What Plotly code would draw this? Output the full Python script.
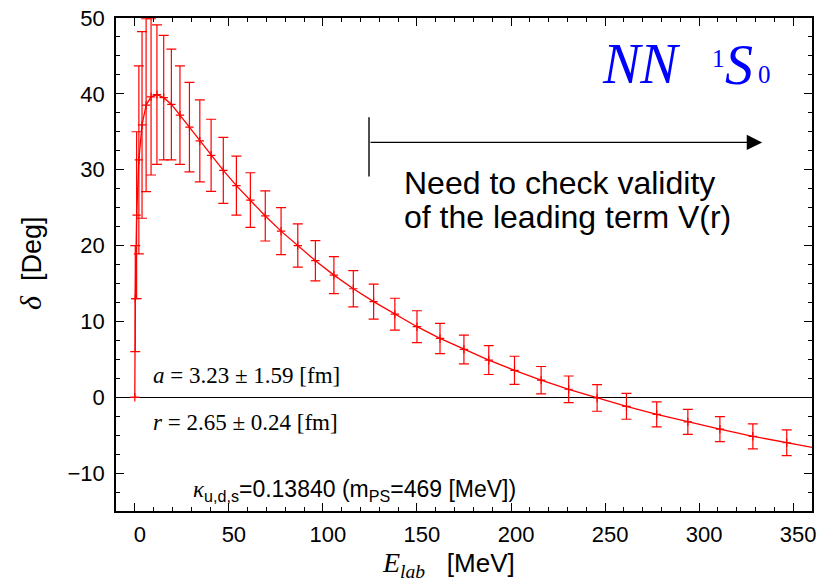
import plotly.graph_objects as go

# ---- data ----
E_lab = [0, 0.24, 0.96, 2.16, 3.84, 6.0, 8.64, 11.76, 15.36, 19.44, 24.0, 29.04,
         34.56, 40.56, 47.04, 54.0, 61.44, 69.36, 77.76, 86.64, 96.0, 105.84,
         116.16, 126.96, 138.24, 150.0, 162.24, 174.96, 188.16, 201.84, 216.0,
         230.64, 245.76, 261.36, 277.44, 294.0, 311.04, 328.56, 346.56, 365.04]
delta = [0, 13.0, 24.0, 31.3, 35.9, 38.5, 39.6, 39.9, 39.5, 38.6, 37.2, 35.6,
         33.8, 31.9, 29.9, 27.9, 26.0, 23.9, 21.9, 20.0, 18.0, 16.1,
         14.3, 12.6, 10.95, 9.3, 7.75, 6.3, 4.9, 3.55, 2.25,
         1.05, -0.1, -1.2, -2.25, -3.25, -4.2, -5.15, -6.0, -6.85]
delta_err = [0, 7.0, 11.0, 12.4, 12.3, 11.4, 10.3, 9.2, 8.2, 7.3, 6.5, 5.9,
             5.4, 4.75, 4.35, 3.9, 3.6, 3.3, 3.1, 2.85, 2.65, 2.45,
             2.4, 2.3, 2.1, 2.1, 2.0, 1.9, 1.9, 1.85, 1.8,
             1.75, 1.75, 1.7, 1.65, 1.65, 1.65, 1.65, 1.7, 1.7]

x_ticks = [0, 50, 100, 150, 200, 250, 300, 350]
y_ticks = [-10, 0, 10, 20, 30, 40, 50]

# arrow marking the region to check (data coordinates)
arrow_start, arrow_end, arrow_level = 124.5, 333.5, 33.6
bar_low, bar_high = 29.1, 36.9

RED = "rgb(255,0,0)"
BLUE = "rgb(0,0,255)"
SERIF = "Liberation Serif"
SANS = "Liberation Sans"

# plot area in pixels
L, R, T, B = 116, 812, 18, 511
W, H = 827, 581


def px(x):
    return (x - L) / (R - L)


def py(y):
    return (B - y) / (B - T)


fig = go.Figure()
fig.add_trace(go.Scatter(
    x=E_lab, y=delta, mode="lines+markers",
    line=dict(color=RED, width=1.3),
    marker=dict(symbol="cross-thin", size=6, color=RED,
                line=dict(color=RED, width=1.2)),
    error_y=dict(type="data", array=delta_err, visible=True,
                 color=RED, thickness=1.2, width=5),
    cliponaxis=True, showlegend=False,
))

ann = []


def add(text, x, y, size, family, xanchor="left", yanchor="middle", color="black", angle=0):
    ann.append(dict(text=text, x=x, y=y, xref="paper", yref="paper",
                    xanchor=xanchor, yanchor=yanchor, showarrow=False,
                    textangle=angle,
                    font=dict(size=size, family=family, color=color)))


# title NN 1S0
add("<i>NN</i>", px(600), py(64), 56, SERIF, color=BLUE)
add("1", px(710), py(58), 25, SERIF, color=BLUE)
add("<i>S</i>", px(723), py(65), 56, SERIF, color=BLUE)
add("0", px(756), py(75), 25, SERIF, color=BLUE)

# message
add("Need to check validity", px(402), py(183), 32, SANS)
add("of the leading term V(r)", px(402), py(217), 32, SANS)

# fit parameters
add("<i>a</i> = 3.23 ± 1.59 [fm]", px(151), py(375), 23, SERIF)
add("<i>r</i> = 2.65 ± 0.24 [fm]", px(151), py(422), 23, SERIF)
add('<span style="font-family:Liberation Serif"><i>κ</i></span><sub>u,d,s</sub>=0.13840 (m<sub>PS</sub>=469 [MeV])',
    px(191), py(490), 23, SANS)

# axis titles
add('<span style="font-family:Liberation Serif;font-size:28px"><i>E</i><sub><i>lab</i></sub></span>   [MeV]',
    px(380), py(564), 26, SANS)
add('<span style="font-family:Liberation Serif;font-size:30px"><i>δ</i></span>  [Deg]',
    px(30), py(263), 27, SANS, xanchor="center", angle=-90)

# arrow
ann.append(dict(x=arrow_end, y=arrow_level, ax=arrow_start, ay=arrow_level,
                xref="x", yref="y", axref="x", ayref="y", text="",
                showarrow=True, arrowhead=2, arrowsize=2.2, arrowwidth=1.4,
                arrowcolor="black", standoff=0, startstandoff=0))

shapes = [dict(type="line", xref="x", yref="y", x0=arrow_start, x1=arrow_start,
               y0=bar_low, y1=bar_high, line=dict(color="black", width=1.4))]

fig.update_layout(
    width=W, height=H,
    margin=dict(l=L, r=W - R, t=T, b=H - B, pad=0, autoexpand=False),
    paper_bgcolor="white", plot_bgcolor="white",
    annotations=ann, shapes=shapes,
    xaxis=dict(range=[-10, 360], tickvals=x_ticks, ticks="inside", ticklen=8,
               tickwidth=1.2, tickcolor="black", mirror="allticks",
               showline=True, linecolor="black", linewidth=1.5,
               showgrid=False, zeroline=False, automargin=False,
               minor=dict(dtick=10, ticks="inside", ticklen=4, tickwidth=1,
                          tickcolor="black", showgrid=False),
               tickfont=dict(family=SANS, size=22, color="black"),
               ticklabelstandoff=3, ticklabelshift=5),
    yaxis=dict(range=[-15, 50], tickvals=y_ticks, ticks="inside", ticklen=8,
               tickwidth=1.2, tickcolor="black", mirror="allticks",
               showline=True, linecolor="black", linewidth=1.5,
               showgrid=False, zeroline=True, zerolinecolor="black",
               zerolinewidth=1.3, automargin=False,
               minor=dict(dtick=2.5, ticks="inside", ticklen=4, tickwidth=1,
                          tickcolor="black", showgrid=False),
               tickfont=dict(family=SANS, size=22, color="black"),
               ticklabelstandoff=5),
)

fig.write_html("out.html", config={"displayModeBar": False},
               post_script="document.body.style.margin='0px';")
